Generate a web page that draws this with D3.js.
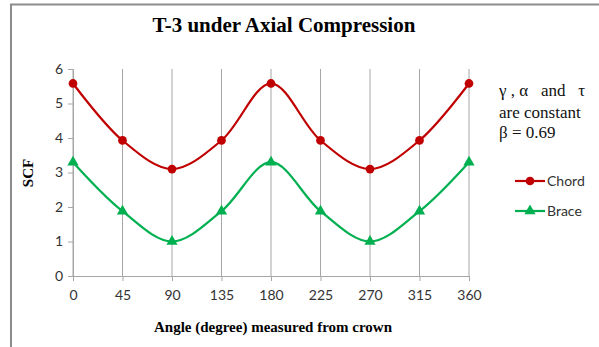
<!doctype html>
<html lang="en">
<head>
<meta charset="utf-8">
<title>T-3 under Axial Compression</title>
<script src="https://d3js.org/d3.v7.min.js"></script>
<style>
  body { margin: 0; background: white; }
  svg { display: block; }
  .tick text { font-family: Lato, "Open Sans", sans-serif; font-size: 14px; fill: #333; }
  .note { font-family: "Liberation Serif", "DejaVu Serif", serif; font-size: 17px; white-space: pre; }
</style>
</head>
<body>
<svg id="chart" width="599" height="347"></svg>
<script>
  var angles = [0, 45, 90, 135, 180, 225, 270, 315, 360];
  var chord = [5.58, 3.93, 3.1, 3.93, 5.58, 3.93, 3.1, 3.93, 5.58];
  var brace = [3.3, 1.88, 1.0, 1.88, 3.3, 1.88, 1.0, 1.88, 3.3];
  var yTicks = [0, 1, 2, 3, 4, 5, 6];
  var note = ["γ , α   and   τ", "are constant", "β = 0.69"];

  var serif = "'Liberation Serif', 'DejaVu Serif', serif";
  var sans = "Lato, 'Open Sans', sans-serif";
  var svg = d3.select("#chart");
  var plotLeft = 73, plotRight = 469, plotTop = 69, plotBottom = 276;

  // outer frame (only top and left edges visible)
  svg.append("path").attr("d", "M11,347 V4.5 H599")
    .attr("fill", "none").attr("stroke", "#8c8c8c").attr("stroke-width", 2);

  var x = d3.scaleLinear().domain([0, 360]).range([plotLeft, plotRight]);
  var y = d3.scaleLinear().domain([0, 6]).range([plotBottom, plotTop]);

  // vertical gridlines
  svg.append("g").selectAll("line").data(angles).enter().append("line")
    .attr("x1", function(d) { return x(d); }).attr("x2", function(d) { return x(d); })
    .attr("y1", plotTop).attr("y2", plotBottom)
    .attr("stroke", "#a6a6a6").attr("stroke-width", 1);

  var xAxis = svg.append("g").attr("transform", "translate(0," + plotBottom + ")")
    .call(d3.axisBottom(x).tickValues(angles).tickSize(5).tickPadding(9).tickSizeOuter(0));
  var yAxis = svg.append("g").attr("transform", "translate(" + plotLeft + ",0)")
    .call(d3.axisLeft(y).tickValues(yTicks).tickFormat(d3.format("d")).tickSize(5).tickPadding(5).tickSizeOuter(0));
  [xAxis, yAxis].forEach(function(a) {
    a.select(".domain").attr("stroke", "#a6a6a6");
    a.selectAll(".tick line").attr("stroke", "#a6a6a6");
  });

  var line = d3.line().x(function(d, i) { return x(angles[i]); }).y(function(d) { return y(d); })
    .curve(d3.curveCatmullRom.alpha(0.5));

  var series = [
    {name: "Chord", values: chord, color: "#c00000", marker: "circle"},
    {name: "Brace", values: brace, color: "#00b050", marker: "triangle"}
  ];
  function symbolFor(s) {
    return d3.symbol().type(s.marker == "circle" ? d3.symbolCircle : d3.symbolTriangle).size(s.marker == "circle" ? 60 : 55);
  }

  series.forEach(function(s) {
    svg.append("path").attr("d", line(s.values)).attr("fill", "none")
      .attr("stroke", s.color).attr("stroke-width", 2.2);
    svg.append("g").selectAll("path").data(s.values).enter().append("path")
      .attr("d", symbolFor(s))
      .attr("transform", function(d, i) { return "translate(" + x(angles[i]) + "," + y(d) + ")"; })
      .attr("fill", s.color);
  });

  // legend
  series.forEach(function(s, i) {
    var ly = 181 + i * 30;
    svg.append("line").attr("x1", 515).attr("x2", 545).attr("y1", ly).attr("y2", ly)
      .attr("stroke", s.color).attr("stroke-width", 2.2);
    svg.append("path").attr("d", symbolFor(s)).attr("transform", "translate(530," + ly + ")").attr("fill", s.color);
    svg.append("text").attr("x", 547).attr("y", ly + 5)
      .style("font-family", sans).style("font-size", "14px").attr("fill", "#333")
      .text(s.name);
  });

  // title and axis labels
  svg.append("text").attr("x", 284).attr("y", 32).attr("text-anchor", "middle")
    .style("font-family", serif).style("font-size", "21px").style("font-weight", "bold").text("T-3 under Axial Compression");
  svg.append("text").attr("x", 273).attr("y", 332).attr("text-anchor", "middle")
    .style("font-family", serif).style("font-size", "15px").style("font-weight", "bold").text("Angle (degree) measured from crown");
  svg.append("text").attr("transform", "translate(33,173) rotate(-90)")
    .attr("text-anchor", "middle").style("font-family", serif).style("font-size", "15px").style("font-weight", "bold").text("SCF");

  // annotation
  var noteY = [96, 118, 138];
  svg.append("g").selectAll("text").data(note).enter().append("text")
    .attr("class", "note")
    .attr("x", 499).attr("y", function(d, i) { return noteY[i]; })
    .attr("fill", "#111").text(function(d) { return d; });
</script>
</body>
</html>
